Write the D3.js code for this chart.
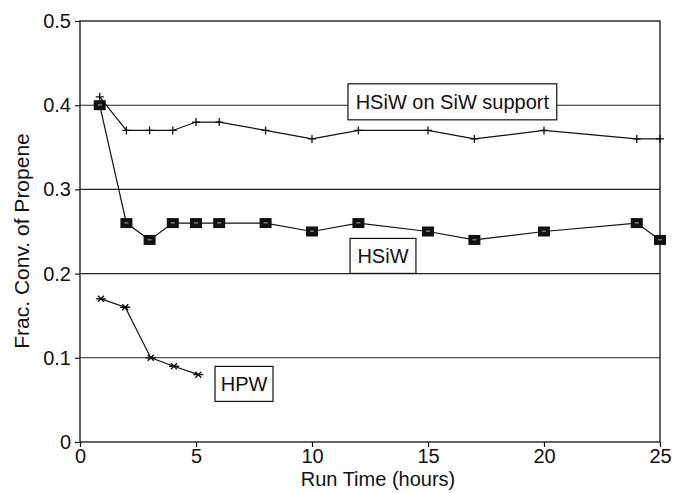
<!DOCTYPE html>
<html>
<head>
<meta charset="utf-8">
<script src="https://cdn.jsdelivr.net/npm/d3@7"></script>
<style>
  html, body { margin: 0; padding: 0; background: #fff; }
  svg { display: block; }
  text { font-family: "Liberation Sans", Arial, Helvetica, sans-serif; fill: #111; }
</style>
</head>
<body>
<svg id="chart" width="674" height="493"></svg>
<script>
// Run time (hours) for each measurement
const timesSupported = [0.85, 2, 3, 4, 5, 6, 8, 10, 12, 15, 17, 20, 24, 25];
const timesHSiW      = [0.85, 2, 3, 4, 5, 6, 8, 10, 12, 15, 17, 20, 24, 25];
const timesHPW       = [0.9, 1.95, 3.05, 4.05, 5.1];

// Fractional conversion of propene
const convSupported = [0.41, 0.37, 0.37, 0.37, 0.38, 0.38, 0.37, 0.36, 0.37, 0.37, 0.36, 0.37, 0.36, 0.36];
const convHSiW      = [0.40, 0.26, 0.24, 0.26, 0.26, 0.26, 0.26, 0.25, 0.26, 0.25, 0.24, 0.25, 0.26, 0.24];
const convHPW       = [0.17, 0.16, 0.10, 0.09, 0.08];

const xTicks = [0, 5, 10, 15, 20, 25];
const yTicks = [0, 0.1, 0.2, 0.3, 0.4, 0.5];
const yTickLabels = ["0", "0.1", "0.2", "0.3", "0.4", "0.5"];

const svg = d3.select("#chart");
const plotL = 80, plotR = 660, plotT = 21, plotB = 442;

const x = d3.scaleLinear().domain([0, 25]).range([plotL, plotR]);
const y = d3.scaleLinear().domain([0, 0.5]).range([plotB, plotT]);

// horizontal grid lines
svg.append("g")
  .selectAll("line")
  .data(yTicks.filter(v => v > 0 && v < 0.5))
  .join("line")
  .attr("x1", plotL).attr("x2", plotR)
  .attr("y1", d => y(d)).attr("y2", d => y(d))
  .attr("stroke", "#222").attr("stroke-width", 1.1);

// frame
svg.append("rect")
  .attr("x", plotL).attr("y", plotT)
  .attr("width", plotR - plotL).attr("height", plotB - plotT)
  .attr("fill", "none").attr("stroke", "#111").attr("stroke-width", 1.3);

// axes
const yAxis = d3.axisLeft(y).tickValues(yTicks)
  .tickFormat((d, i) => yTickLabels[i]).tickSize(5).tickPadding(4);
const gy = svg.append("g").attr("transform", `translate(${plotL},0)`).call(yAxis);
gy.select(".domain").remove();
gy.selectAll("line").attr("stroke", "#111").attr("stroke-width", 1.2);
gy.selectAll("text").attr("font-size", 20).style("font-family", "'Liberation Sans', Arial, sans-serif").attr("fill", "#111");

const xAxis = d3.axisBottom(x).tickValues(xTicks).tickSize(5).tickPadding(2);
const gx = svg.append("g").attr("transform", `translate(0,${plotB})`).call(xAxis);
gx.select(".domain").remove();
gx.selectAll("line").attr("stroke", "#111").attr("stroke-width", 1.2);
gx.selectAll("text").attr("font-size", 20).style("font-family", "'Liberation Sans', Arial, sans-serif").attr("fill", "#111");

// axis titles
svg.append("text")
  .attr("x", 378).attr("y", 486)
  .attr("text-anchor", "middle").attr("font-size", 20)
  .text("Run Time (hours)");

svg.append("text")
  .attr("transform", `translate(29,241) rotate(-90)`)
  .attr("text-anchor", "middle").attr("font-size", 21)
  .text("Frac. Conv. of Propene");

const line = d3.line().x(d => x(d[0])).y(d => y(d[1]));
const zip = (a, b) => a.map((v, i) => [v, b[i]]);

const dSupported = zip(timesSupported, convSupported);
const dHSiW = zip(timesHSiW, convHSiW);
const dHPW = zip(timesHPW, convHPW);

[dSupported, dHSiW, dHPW].forEach(d => {
  svg.append("path").datum(d).attr("d", line)
    .attr("fill", "none").attr("stroke", "#111").attr("stroke-width", 1.2);
});

// plus markers — HSiW on SiW support
svg.append("g").selectAll("path").data(dSupported).join("path")
  .attr("transform", d => `translate(${x(d[0])},${y(d[1])})`)
  .attr("d", "M-4,0H4M0,-4V4")
  .attr("stroke", "#111").attr("stroke-width", 1.3);

// square markers — HSiW
const sq = svg.append("g").selectAll("g").data(dHSiW).join("g")
  .attr("transform", d => `translate(${x(d[0])},${y(d[1])})`);
sq.append("rect").attr("x", -6).attr("y", -5).attr("width", 12).attr("height", 10)
  .attr("fill", "#111");
sq.append("rect").attr("x", -2).attr("y", -1).attr("width", 4).attr("height", 1.5)
  .attr("fill", "#777");

// asterisk markers — HPW
svg.append("g").selectAll("path").data(dHPW).join("path")
  .attr("transform", d => `translate(${x(d[0])},${y(d[1])})`)
  .attr("d", "M-5,0H5M-3,-3L3,3M-3,3L3,-3")
  .attr("stroke", "#111").attr("stroke-width", 1.4);

// series labels in boxes (left edge / vertical centre in data units)
function boxLabel(text, x0, x1, yc, h) {
  const px0 = x(x0), px1 = x(x1), py = y(yc);
  svg.append("rect")
    .attr("x", px0).attr("y", py - h / 2)
    .attr("width", px1 - px0).attr("height", h)
    .attr("fill", "#fff").attr("stroke", "#111").attr("stroke-width", 1.2);
  svg.append("text")
    .attr("x", (px0 + px1) / 2).attr("y", py + 7.5)
    .attr("text-anchor", "middle").attr("font-size", 20)
    .text(text);
}
boxLabel("HSiW on SiW support", 11.55, 20.55, 0.404, 36);
boxLabel("HSiW", 11.64, 14.48, 0.221, 35);
boxLabel("HPW", 5.82, 8.32, 0.069, 35);
</script>
</body>
</html>
